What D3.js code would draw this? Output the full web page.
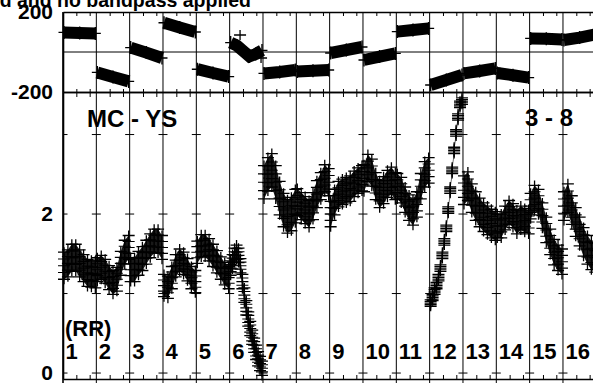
<!DOCTYPE html>
<html><head><meta charset="utf-8">
<script src="https://cdn.jsdelivr.net/npm/d3@7"></script>
<style>
html,body{margin:0;padding:0;background:#fff;overflow:hidden}
text{font-family:"Liberation Sans",Arial,Helvetica,sans-serif;font-weight:bold;fill:#000}
</style>
</head><body>
<svg id="c" width="593" height="383"></svg>
<script>
// ---------------- DATA ----------------
const segments = ["1","2","3","4","5","6","7","8","9","10","11","12","13","14","15","16"];
const titleText = "d and no bandpass applied";
const leftLabel = "MC - YS";
const rightLabel = "3 - 8";
const unitLabel = "(RR)";

// top panel (phase) tick labels
const phaseTickValues = [200, -200];
const phaseTickLabels = ["200", "-200"];
// bottom panel tick values / labels
const rrTickValues = [0, 1, 2, 3];
const rrLabelValues = [0, 2];
const rrLabelTexts = ["0", "2"];
// minor x ticks inside each segment (fractions)
const minorTickFractions = [0.4, 0.8];

// top panel: phase readings per segment (evenly spaced over the segment)
const phaseValues = [
  [98, 95, 93],
  [-102, -125, -147],
  [22, -3, -30],
  [146, 123, 100],
  [-86, -105, -123],
  [47, 32, 5, -22, -10, 8],
  [-107, -100, -90],
  [-98, -94, -90],
  [-5, 10, 25],
  [-40, -23, -7],
  [102, 110, 118],
  [-165, -140, -115],
  [-107, -95, -82],
  [-105, -116, -128],
  [68, 66, 62],
  [60, 72, 88]
];
// isolated phase points (segment, position within segment, value)
const phaseOutlierSeg = [6, 6];
const phaseOutlierPos = [0.3, 0.97];
const phaseOutlierVal = [85, -30];

// bottom panel: centre of the RR scatter per segment (evenly spaced)
const rrCentre = [
  [1.35, 1.38, 1.45, 1.45, 1.38, 1.32, 1.26, 1.25, 1.24],
  [1.30, 1.33, 1.28, 1.20, 1.14, 1.18, 1.38, 1.52, 1.58],
  [1.30, 1.30, 1.38, 1.44, 1.52, 1.60, 1.66, 1.66, 1.58],
  [1.10, 1.08, 1.20, 1.35, 1.42, 1.38, 1.30, 1.20, 1.15],
  [1.52, 1.60, 1.60, 1.55, 1.48, 1.40, 1.32, 1.25, 1.20],
  [1.32, 1.40, 1.48, 1.52, 1.48, 1.35, 1.15, 0.98, 0.82, 0.68, 0.56, 0.45, 0.35, 0.26, 0.18, 0.12, 0.06],
  [2.40, 2.50, 2.55, 2.40, 2.20, 2.05, 1.97, 2.00, 2.10],
  [2.15, 2.10, 2.05, 2.00, 2.10, 2.25, 2.35, 2.45, 2.40],
  [2.00, 2.15, 2.25, 2.28, 2.30, 2.32, 2.38, 2.42, 2.45],
  [2.45, 2.58, 2.52, 2.35, 2.25, 2.30, 2.38, 2.42, 2.35],
  [2.35, 2.30, 2.18, 2.08, 2.02, 2.12, 2.35, 2.50, 2.55],
  [0.88, 0.95, 1.03, 1.10, 1.20, 1.32, 1.48, 1.65, 1.82, 2.05, 2.30, 2.55, 2.80, 3.02, 3.22, 3.38, 3.42],
  [2.30, 2.35, 2.20, 2.10, 2.02, 1.96, 1.92, 1.88, 1.85],
  [1.85, 1.85, 1.95, 2.02, 1.98, 1.90, 1.95, 1.92, 1.90],
  [2.10, 2.20, 2.15, 1.98, 1.80, 1.65, 1.52, 1.45, 1.40],
  [2.10, 2.20, 2.05, 1.90, 1.78, 1.65, 1.55, 1.48, 1.45]
];
// half-width of the RR scatter band per segment
const rrSpread = [0.23, 0.21, 0.21, 0.2, 0.2, 0.15, 0.27, 0.23, 0.22, 0.23, 0.22, 0.1, 0.24, 0.21, 0.22, 0.24];

// ---------------- DRAW ----------------
const svg = d3.select("#c");
const W = 593, H = 383;
const x = d3.scaleLinear().domain([0, 16]).range([63, 596.3]);
const yTop = d3.scaleLinear().domain([-200, 200]).range([92, 12]);
const yBot = d3.scaleLinear().domain([-0.075, 3.535]).range([379, 92]);
const inset = 0.03;
const posX = (s, t) => x(s + inset + (1 - 2 * inset) * t);

// title (cut off at the top)
svg.append("text").attr("x", 251).attr("y", 7).attr("text-anchor", "end")
  .style("font-size", "19.5px").text(titleText);

// vertical segment gridlines
svg.append("g").selectAll("line").data(d3.range(1, 16)).join("line")
  .attr("x1", d => x(d)).attr("x2", d => x(d)).attr("y1", 12).attr("y2", H)
  .attr("stroke", "#000").attr("stroke-width", 1);

// zero line of top panel
svg.append("line").attr("x1", x(0)).attr("x2", W).attr("y1", yTop(0)).attr("y2", yTop(0))
  .attr("stroke", "#000").attr("stroke-width", 1);

// minor ticks
const minorTicks = [];
segments.forEach((s, i) => minorTickFractions.forEach(f => minorTicks.push(i + f)));
function styleAxis(g) {
  g.selectAll("path.domain").attr("stroke", "#000").attr("stroke-width", 1.6);
  g.selectAll(".tick line").attr("stroke", "#000").attr("stroke-width", 1);
}
svg.append("g").attr("transform", "translate(0,12)")
  .call(d3.axisBottom(x).tickValues(minorTicks).tickSize(4).tickSizeOuter(0).tickFormat(""))
  .call(styleAxis);
svg.append("g").attr("transform", "translate(0,92)")
  .call(d3.axisBottom(x).tickValues(minorTicks).tickSize(5).tickSizeOuter(0).tickFormat(""))
  .call(styleAxis);
svg.append("g").attr("transform", "translate(0,92)")
  .call(d3.axisTop(x).tickValues(minorTicks).tickSize(3).tickSizeOuter(0).tickFormat(""))
  .call(styleAxis);
svg.append("g").attr("transform", "translate(0,379)")
  .call(d3.axisTop(x).tickValues(minorTicks).tickSize(4).tickSizeOuter(0).tickFormat(""))
  .call(styleAxis);

// left axes with labels
function styleLeft(g) {
  g.selectAll("path.domain").attr("stroke", "#000").attr("stroke-width", 1.6);
  g.selectAll(".tick text").style("font-size", "21px").style("font-weight", "bold")
    .style("font-family", "'Liberation Sans',Arial,sans-serif").attr("fill", "#000");
}
svg.append("g").attr("transform", `translate(${x(0)},0)`)
  .call(d3.axisLeft(yTop).tickValues(phaseTickValues).tickSize(0).tickSizeOuter(0).tickPadding(10)
    .tickFormat((d, i) => phaseTickLabels[i]))
  .call(styleLeft);
svg.append("g").attr("transform", `translate(${x(0)},0)`)
  .call(d3.axisLeft(yBot).tickValues(rrLabelValues).tickSize(0).tickSizeOuter(0).tickPadding(10)
    .tickFormat((d, i) => rrLabelTexts[i]))
  .call(styleLeft);
svg.append("line").attr("x1", x(0)).attr("x2", x(0)).attr("y1", 12).attr("y2", H)
  .attr("stroke", "#000").attr("stroke-width", 1.6);

// y ticks crossing each gridline in bottom panel
const crossData = [];
d3.range(0, 16).forEach(k => rrTickValues.forEach(v => crossData.push([k, v])));
svg.append("g").selectAll("line").data(crossData).join("line")
  .attr("x1", d => d[0] === 0 ? x(0) : x(d[0]) - 4.5)
  .attr("x2", d => x(d[0]) + 4.5)
  .attr("y1", d => yBot(d[1])).attr("y2", d => yBot(d[1]))
  .attr("stroke", "#000").attr("stroke-width", 1);

// plus marker helper
function plus(g, px, py, hw, hh, sw) {
  g.append("path").attr("d", `M${px - hw},${py}h${2 * hw}M${px},${py - hh}v${2 * hh}`)
    .attr("stroke", "#000").attr("stroke-width", sw).attr("fill", "none");
}

// top panel bands
const gTop = svg.append("g");
phaseValues.forEach((vals, si) => {
  const n = vals.length;
  const pts = vals.map((v, j) => [posX(si, j / (n - 1)), yTop(v)]);
  gTop.append("path").attr("d", d3.line()(pts))
    .attr("stroke", "#000").attr("stroke-width", 12).attr("fill", "none");
  pts.forEach(p => plus(gTop, p[0], p[1], 5.5, 6.5, 1.4));
});
phaseOutlierSeg.forEach((s, i) => {
  plus(gTop, posX(s - 1, phaseOutlierPos[i]), yTop(phaseOutlierVal[i]), 6, 5, 1.3);
});

// bottom panel scatter bands
const gBot = svg.append("g");
rrCentre.forEach((vals, si) => {
  const n = vals.length;
  const sp = rrSpread[si];
  const inner = Math.max(sp - 0.06, 0.03);
  const area = d3.area()
    .x((v, j) => posX(si, j / (n - 1)))
    .y0(v => yBot(v - inner))
    .y1(v => yBot(v + inner));
  gBot.append("path").attr("d", area(vals)).attr("fill", "#000").attr("fill-opacity", 0.9);
  vals.forEach((v, j) => {
    const px = posX(si, j / (n - 1));
    plus(gBot, px, yBot(v + inner), 6, 5, 1.3);
    plus(gBot, px, yBot(v + inner / 2), 6, 5, 1.1);
    plus(gBot, px, yBot(v), 6, 5, 1.1);
    plus(gBot, px, yBot(v - inner / 2), 6, 5, 1.1);
    plus(gBot, px, yBot(v - inner), 6, 5, 1.3);
  });
});

// annotations
svg.append("text").attr("x", 87).attr("y", 127).style("font-size", "24px").text(leftLabel);
svg.append("text").attr("x", 525).attr("y", 126).style("font-size", "24px").text(rightLabel);
svg.append("text").attr("x", 65).attr("y", 336).style("font-size", "22px").text(unitLabel);
svg.append("g").selectAll("text").data(segments).join("text")
  .attr("x", (d, i) => x(i) + 2.5).attr("y", 359)
  .style("font-size", "22px").text(d => d);
</script>
</body></html>
